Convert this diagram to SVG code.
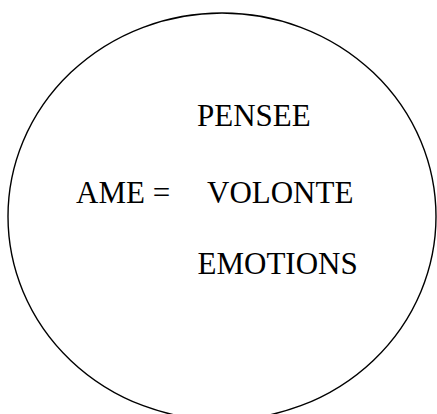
<svg xmlns="http://www.w3.org/2000/svg" width="437" height="414" viewBox="0 0 437 414">
<style>
.t{font-family:"Liberation Serif","Times New Roman",serif;font-size:31px;fill:#000}
</style>
<rect width="437" height="414" fill="#fff"/>
<g id="ame">
<ellipse cx="222" cy="216.5" rx="214" ry="203.5" fill="none" stroke="#000" stroke-width="1.4"/>
<text class="t" x="76" y="203">AME =</text>
</g>
<g id="pensee"><text class="t" x="197" y="126">PENSEE</text></g>
<g id="volonte"><text class="t" x="207" y="203">VOLONTE</text></g>
<g id="emotions"><text class="t" x="197.5" y="274">EMOTIONS</text></g>
<g id="connectors"></g>
</svg>
